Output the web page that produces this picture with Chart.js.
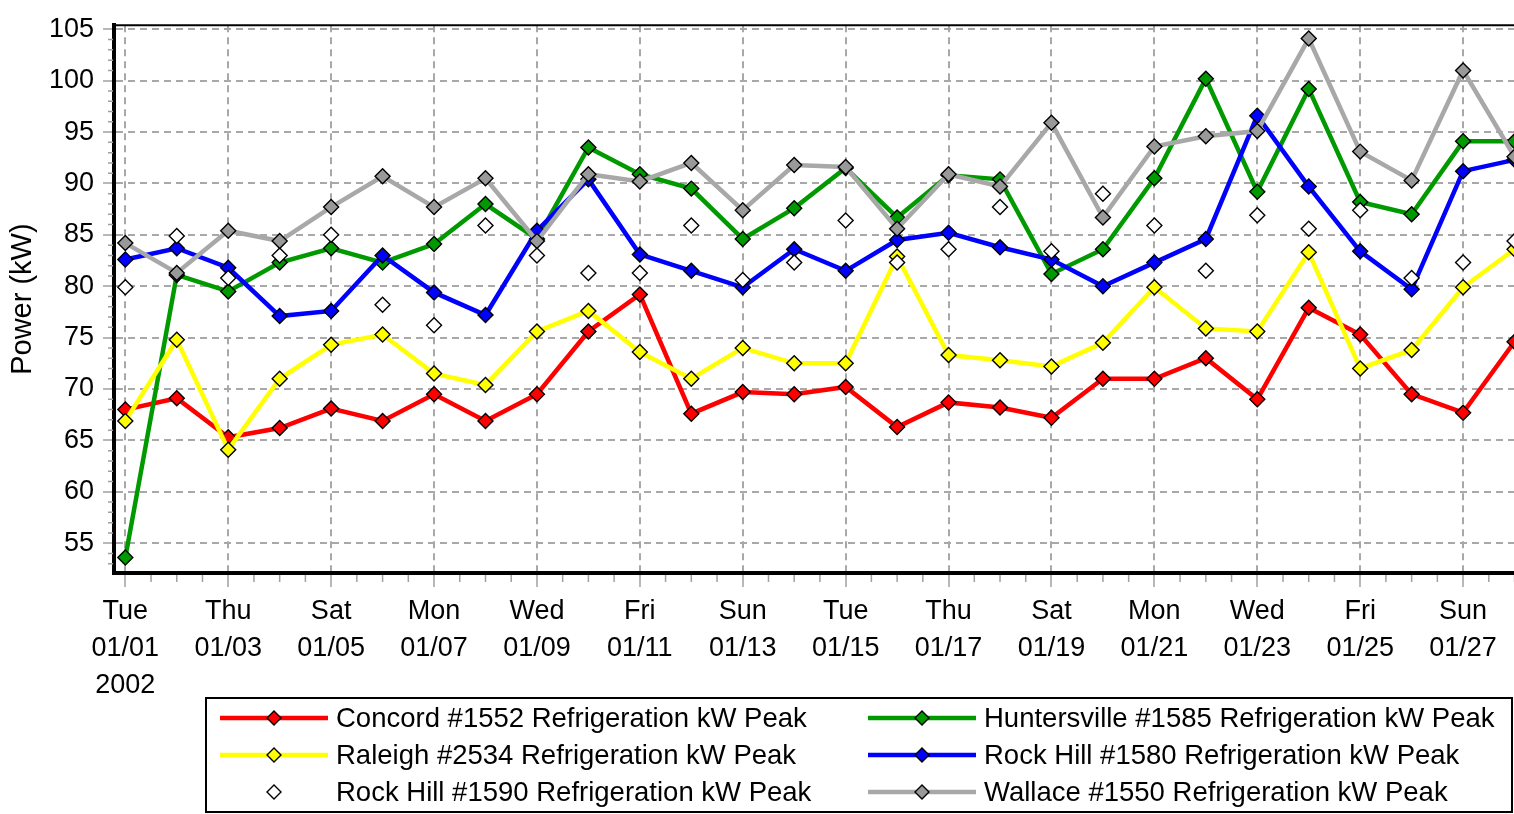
<!DOCTYPE html>
<html>
<head>
<meta charset="utf-8">
<script src="https://cdn.jsdelivr.net/npm/chart.js@4"></script>
<style>
  html, body { margin: 0; padding: 0; background: #fff; overflow: hidden; }
  #wrap { width: 1514px; height: 814px; overflow: hidden; }
  #box { width: 1580px; height: 814px; }
</style>
</head>
<body>
<div id="wrap"><div id="box"><canvas id="chart"></canvas></div></div>
<script>
const dates = ['01/01', '01/02', '01/03', '01/04', '01/05', '01/06', '01/07', '01/08', '01/09', '01/10',
  '01/11', '01/12', '01/13', '01/14', '01/15', '01/16', '01/17', '01/18', '01/19', '01/20',
  '01/21', '01/22', '01/23', '01/24', '01/25', '01/26', '01/27', '01/28'];
const weekdays = ['Tue', 'Wed', 'Thu', 'Fri', 'Sat', 'Sun', 'Mon', 'Tue', 'Wed', 'Thu',
  'Fri', 'Sat', 'Sun', 'Mon', 'Tue', 'Wed', 'Thu', 'Fri', 'Sat', 'Sun',
  'Mon', 'Tue', 'Wed', 'Thu', 'Fri', 'Sat', 'Sun', 'Mon'];
const year = '2002';

const concord = [68.0, 69.1, 65.3, 66.2, 68.1, 66.9, 69.5, 66.9, 69.5, 75.6, 79.2, 67.6, 69.7, 69.5,
  70.2, 66.3, 68.7, 68.2, 67.2, 71.0, 71.0, 73.0, 69.0, 77.9, 75.3, 69.5, 67.7, 74.6];
const huntersville = [53.6, 81.1, 79.5, 82.3, 83.7, 82.3, 84.1, 88.0, 84.6, 93.5, 90.9, 89.5, 84.6, 87.6,
  91.5, 86.7, 90.8, 90.4, 81.2, 83.6, 90.5, 100.2, 89.2, 99.2, 88.2, 87.0, 94.1, 94.1];
const raleigh = [66.9, 74.8, 64.1, 71.0, 74.3, 75.3, 71.5, 70.4, 75.6, 77.6, 73.6, 71.0, 74.0, 72.5,
  72.5, 82.9, 73.3, 72.8, 72.2, 74.5, 79.9, 75.9, 75.6, 83.3, 72.0, 73.8, 79.9, 83.6];
const rockHill1580 = [82.6, 83.7, 81.8, 77.1, 77.6, 83.0, 79.4, 77.2, 85.4, 90.4, 83.1, 81.5, 79.9, 83.6,
  81.5, 84.5, 85.2, 83.8, 82.6, 80.0, 82.3, 84.6, 96.6, 89.7, 83.4, 79.7, 91.2, 92.3];
const rockHill1590 = [79.9, 84.9, 80.8, 83.0, 85.0, 78.2, 76.2, 85.9, 83.0, 81.3, 81.3, 85.9, 80.6, 82.3,
  86.4, 82.3, 83.6, 87.7, 83.4, 89.0, 85.9, 81.5, 86.9, 85.6, 87.4, 80.8, 82.3, 84.4];
const wallace = [84.2, 81.3, 85.4, 84.4, 87.7, 90.7, 87.7, 90.5, 84.4, 90.9, 90.2, 92.0, 87.4, 91.8,
  91.6, 85.6, 90.9, 89.7, 95.9, 86.7, 93.6, 94.6, 95.1, 104.1, 93.1, 90.3, 101.0, 92.6];

const FONT = '"Liberation Sans", Arial, sans-serif';
const toPoints = arr => arr.map((v, i) => ({ x: i, y: v }));

function series(label, values, line, fill, order, showLine = true) {
  return {
    label: label,
    data: toPoints(values),
    borderColor: line,
    backgroundColor: fill,
    borderWidth: 4.5,
    showLine: showLine,
    pointStyle: 'rectRot',
    pointRadius: 7.5,
    pointBackgroundColor: fill,
    pointBorderColor: '#000',
    pointBorderWidth: 1.4,
    order: order
  };
}

// minor tick marks, half days on x and single units on y
const minorTicks = {
  id: 'minorTicks',
  beforeDatasetsDraw(chart) {
    const { ctx, chartArea, scales } = chart;
    ctx.save();
    ctx.strokeStyle = '#a0a0a0';
    ctx.lineWidth = 1.5;
    ctx.beginPath();
    for (let v = 0; v <= dates.length - 1; v += 0.5) {
      if (v % 2 === 0) continue;
      const x = scales.x.getPixelForValue(v);
      ctx.moveTo(x, chartArea.bottom + 2);
      ctx.lineTo(x, chartArea.bottom + 9);
    }
    for (let v = 53; v <= 105; v++) {
      if (v % 5 === 0) continue;
      const y = scales.y.getPixelForValue(v);
      ctx.moveTo(chartArea.left - 6, y);
      ctx.lineTo(chartArea.left - 1, y);
    }
    ctx.stroke();
    // top frame line
    ctx.strokeStyle = '#000';
    ctx.lineWidth = 2;
    ctx.beginPath();
    ctx.moveTo(chartArea.left, chartArea.top);
    ctx.lineTo(chartArea.right, chartArea.top);
    ctx.stroke();
    ctx.restore();
  }
};

const boxLegend = {
  id: 'boxLegend',
  afterDraw(chart, args, opts) {
    const ctx = chart.ctx;
    ctx.save();
    ctx.lineWidth = 2;
    ctx.strokeStyle = '#000';
    ctx.strokeRect(opts.left, opts.top, opts.width, opts.height);
    ctx.font = opts.font;
    ctx.textBaseline = 'middle';
    chart.data.datasets.forEach((ds, k) => {
      const x0 = opts.colX[k % 2];
      const y = opts.rowY[Math.floor(k / 2)];
      if (ds.showLine) {
        ctx.strokeStyle = ds.borderColor;
        ctx.lineWidth = 4.5;
        ctx.beginPath();
        ctx.moveTo(x0, y);
        ctx.lineTo(x0 + opts.lineLen, y);
        ctx.stroke();
      }
      ctx.fillStyle = ds.pointBackgroundColor;
      ctx.strokeStyle = '#000';
      ctx.lineWidth = 1.4;
      Chart.helpers.drawPoint(ctx, { pointStyle: 'rectRot', radius: 7, borderWidth: 1.4 },
        x0 + opts.lineLen / 2, y);
      ctx.fillStyle = '#000';
      ctx.fillText(ds.label, x0 + opts.textGap, y + 1);
    });
    ctx.restore();
  }
};

new Chart(document.getElementById('chart'), {
  type: 'line',
  data: {
    datasets: [
      series('Concord #1552 Refrigeration kW Peak', concord, '#ff0000', '#ff0000', 6),
      series('Huntersville #1585 Refrigeration kW Peak', huntersville, '#009a00', '#009a00', 5),
      series('Raleigh #2534 Refrigeration kW Peak', raleigh, '#ffff00', '#ffff00', 4),
      series('Rock Hill #1580 Refrigeration kW Peak', rockHill1580, '#0000ff', '#0000ff', 3),
      series('Rock Hill #1590 Refrigeration kW Peak', rockHill1590, '#ffffff', '#ffffff', 2, false),
      series('Wallace #1550 Refrigeration kW Peak', wallace, '#a8a8a8', '#999999', 1)
    ]
  },
  options: {
    responsive: true,
    maintainAspectRatio: false,
    animation: false,
    events: [],
    layout: { padding: { top: 20, right: 14, bottom: 0, left: 0 } },
    scales: {
      x: {
        type: 'linear',
        min: -0.22,
        max: 28,
        afterFit: s => { s.height = 241; },
        border: { display: true, color: '#000', width: 4, dash: [7, 5] },
        grid: {
          color: '#a8a8a8',
          lineWidth: 2,
          tickColor: '#a0a0a0',
          tickWidth: 1.5,
          tickLength: 14
        },
        ticks: {
          stepSize: 2,
          maxTicksLimit: 100,
          includeBounds: false,
          maxRotation: 0,
          autoSkip: false,
          padding: 6,
          color: '#000',
          font: { family: FONT, size: 27, lineHeight: 37 / 27 },
          callback: v => {
            if (v < 0 || v > dates.length - 1 || !Number.isInteger(v)) return '';
            const lines = [weekdays[v], dates[v]];
            if (v === 0) lines.push(year);
            return lines;
          }
        }
      },
      y: {
        min: 52.1,
        max: 105.4,
        afterFit: s => { s.width = 114; },
        border: { display: true, color: '#000', width: 4, dash: [7, 5] },
        grid: {
          color: '#a8a8a8',
          lineWidth: 2,
          tickColor: '#a0a0a0',
          tickWidth: 1.5,
          tickLength: 11
        },
        ticks: {
          stepSize: 5,
          maxTicksLimit: 100,
          includeBounds: false,
          padding: 9,
          color: '#000',
          font: { family: FONT, size: 27 }
        },
        title: {
          display: true,
          text: 'Power (kW)',
          color: '#000',
          font: { family: FONT, size: 29 },
          padding: { top: 6, bottom: 0 }
        }
      }
    },
    plugins: {
      legend: { display: false },
      tooltip: { enabled: false },
      boxLegend: {
        left: 206, top: 698, width: 1306, height: 114,
        colX: [220, 868], rowY: [718, 755, 792],
        lineLen: 108, textGap: 116,
        font: '27.5px ' + FONT
      }
    }
  },
  plugins: [minorTicks, boxLegend]
});
</script>
</body>
</html>
